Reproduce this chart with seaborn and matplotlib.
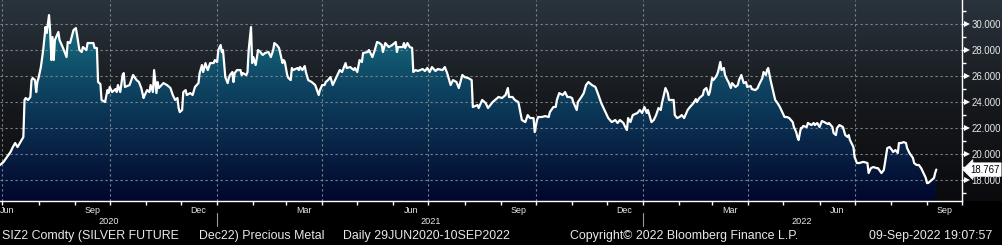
import numpy as np
import pandas as pd
import matplotlib
matplotlib.use("Agg")
import matplotlib.pyplot as plt
import matplotlib.dates as mdates
import matplotlib.transforms as mtransforms
from matplotlib.colors import LinearSegmentedColormap
from matplotlib.ticker import FixedLocator, NullFormatter
import seaborn as sns

# ---------------- data ----------------
start_date = "2020-06-29"
day_offsets = [
    0, 3, 6, 9, 11, 13, 15, 16, 20, 21,
    22, 24, 26, 27, 28, 30, 31, 32, 33, 35,
    37, 39, 40, 42, 43, 44, 45, 46, 47, 50,
    51, 54, 57, 58, 60, 63, 65, 66, 68, 70,
    71, 74, 75, 80, 81, 83, 84, 86, 87, 90,
    92, 93, 94, 96, 99, 100, 101, 103, 105, 106,
    107, 111, 114, 117, 119, 121, 123, 124, 126, 128,
    129, 131, 132, 134, 135, 136, 140, 143, 146, 148,
    150, 152, 153, 154, 156, 157, 159, 160, 163, 165,
    167, 170, 171, 173, 174, 176, 177, 178, 180, 183,
    184, 186, 187, 189, 190, 191, 193, 195, 196, 197,
    199, 200, 201, 203, 206, 207, 208, 211, 212, 213,
    215, 216, 217, 219, 220, 221, 223, 225, 227, 230,
    232, 234, 235, 237, 239, 242, 243, 244, 246, 247,
    249, 250, 251, 255, 256, 257, 259, 261, 262, 264,
    267, 270, 273, 274, 276, 278, 279, 281, 283, 285,
    289, 291, 293, 296, 297, 300, 303, 304, 306, 308,
    310, 311, 315, 316, 319, 321, 323, 325, 327, 328,
    330, 333, 336, 339, 340, 341, 345, 346, 347, 349,
    351, 353, 354, 356, 358, 362, 364, 366, 368, 370,
    373, 375, 379, 381, 383, 386, 388, 391, 393, 396,
    398, 401, 404, 405, 409, 410, 413, 416, 418, 422,
    424, 427, 430, 433, 435, 436, 439, 441, 444, 447,
    450, 452, 454, 457, 458, 460, 461, 464, 467, 470,
    471, 474, 476, 477, 479, 482, 484, 486, 488, 490,
    491, 494, 495, 498, 500, 502, 504, 507, 510, 512,
    515, 517, 519, 521, 524, 527, 529, 531, 534, 536,
    537, 538, 540, 542, 546, 548, 550, 552, 554, 555,
    558, 560, 562, 564, 566, 567, 570, 572, 573, 577,
    578, 580, 582, 584, 586, 589, 591, 594, 596, 597,
    599, 602, 603, 605, 607, 608, 610, 611, 613, 614,
    615, 617, 618, 620, 621, 623, 624, 626, 627, 630,
    632, 633, 635, 637, 639, 640, 643, 644, 647, 649,
    650, 653, 654, 656, 657, 658, 660, 662, 664, 666,
    668, 670, 672, 674, 676, 679, 680, 682, 683, 684,
    686, 687, 688, 691, 692, 695, 697, 698, 700, 702,
    704, 706, 709, 710, 713, 714, 716, 717, 719, 722,
    724, 726, 727, 728, 731, 732, 734, 736, 739, 740,
    743, 744, 746, 748, 751, 752, 755, 757, 758, 760,
    762, 764, 765, 767, 769, 770, 772, 774, 776, 777,
    779, 782, 783, 785, 787, 789, 791, 793, 794, 795,
    798, 800, 801, 802,
]
prices = [
    19.12, 19.35, 19.73, 20.12, 20.50, 20.81, 20.50, 20.65, 21.27, 24.12,
    24.27, 24.12, 24.35, 25.65, 25.81, 25.65, 24.73, 25.50, 25.81, 26.65,
    27.96, 29.73, 29.27, 30.65, 29.35, 27.19, 28.96, 27.19, 28.73, 29.35,
    28.73, 28.12, 27.42, 28.58, 28.50, 29.50, 29.65, 29.12, 27.96, 27.81,
    28.19, 27.96, 28.50, 28.50, 28.12, 28.12, 25.50, 25.35, 24.12, 23.96,
    24.88, 24.65, 25.12, 24.73, 24.96, 24.73, 25.27, 24.73, 26.04, 26.19,
    25.12, 25.27, 26.04, 25.65, 25.50, 25.04, 24.27, 24.50, 24.88, 24.73,
    25.27, 24.73, 26.42, 24.65, 25.50, 25.04, 25.42, 25.27, 25.04, 24.50,
    24.12, 24.27, 23.50, 23.19, 23.35, 24.73, 24.88, 24.50, 24.65, 24.50,
    25.12, 25.42, 26.19, 26.81, 26.27, 26.96, 26.65, 26.42, 26.96, 26.96,
    27.19, 27.04, 27.96, 28.35, 27.81, 27.96, 25.88, 25.42, 25.81, 26.04,
    26.27, 25.50, 26.19, 26.42, 26.42, 26.04, 26.19, 26.04, 26.27, 27.96,
    29.73, 26.96, 27.42, 26.81, 27.35, 27.96, 27.81, 27.58, 27.73, 27.81,
    27.42, 27.96, 28.50, 28.35, 28.12, 26.96, 27.19, 27.04, 26.04, 25.81,
    25.65, 26.58, 26.42, 26.58, 26.42, 26.65, 26.42, 26.73, 26.27, 25.65,
    25.50, 25.27, 24.50, 24.88, 25.27, 25.27, 25.50, 25.65, 25.88, 25.27,
    26.04, 26.42, 26.27, 26.96, 26.58, 26.65, 26.42, 26.58, 26.27, 27.19,
    27.04, 27.73, 27.81, 27.96, 27.42, 27.96, 28.58, 28.50, 28.35, 27.81,
    28.50, 28.19, 28.35, 28.58, 27.81, 28.19, 28.19, 28.50, 28.12, 28.50,
    28.19, 28.12, 26.27, 26.42, 26.35, 26.50, 26.35, 26.58, 26.27, 26.65,
    26.35, 26.50, 26.42, 26.65, 26.19, 25.27, 25.65, 25.50, 25.04, 26.04,
    25.88, 25.81, 25.65, 23.58, 23.73, 23.50, 24.12, 23.88, 23.50, 23.96,
    24.12, 24.35, 24.27, 24.50, 25.04, 24.35, 24.35, 24.12, 23.96, 22.58,
    22.42, 22.96, 22.73, 22.73, 21.65, 22.58, 22.81, 22.81, 22.88, 22.81,
    23.19, 23.58, 23.58, 24.12, 24.65, 24.50, 24.73, 24.35, 24.35, 24.27,
    23.96, 23.35, 23.96, 24.35, 24.65, 25.27, 25.50, 25.27, 25.12, 24.65,
    23.88, 23.50, 23.12, 22.73, 22.42, 22.58, 22.35, 22.58, 22.35, 21.96,
    21.81, 22.73, 22.42, 22.96, 23.12, 23.35, 23.12, 23.58, 23.12, 23.35,
    22.42, 22.58, 22.96, 23.50, 23.35, 23.88, 25.04, 24.65, 24.12, 24.12,
    22.96, 22.73, 22.81, 22.96, 22.73, 23.35, 23.58, 23.88, 24.19, 23.96,
    24.27, 24.50, 24.88, 25.04, 24.50, 24.73, 25.81, 25.65, 25.88, 26.04,
    26.27, 27.04, 26.42, 26.58, 26.04, 25.65, 25.50, 25.04, 25.42, 25.12,
    25.27, 25.65, 26.04, 25.42, 25.50, 25.12, 25.19, 24.96, 24.88, 25.04,
    25.27, 25.81, 26.27, 26.04, 26.42, 26.58, 25.65, 24.88, 24.12, 23.88,
    23.58, 23.19, 22.81, 22.81, 22.73, 22.42, 22.04, 21.65, 21.27, 21.04,
    21.96, 21.96, 22.12, 22.04, 22.35, 22.19, 22.35, 22.19, 22.35, 22.04,
    22.50, 22.42, 22.27, 22.35, 22.04, 21.58, 21.42, 21.96, 22.19, 22.04,
    21.42, 21.27, 21.42, 21.04, 20.50, 19.73, 19.27, 19.27, 19.35, 19.35,
    19.27, 18.50, 18.88, 18.96, 18.88, 18.88, 18.50, 18.73, 19.27, 20.42,
    20.50, 20.27, 20.12, 20.27, 20.04, 20.81, 20.81, 20.88, 20.81, 20.42,
    20.04, 19.65, 19.27, 19.12, 19.12, 18.88, 18.50, 18.12, 17.73, 17.73,
    17.96, 18.12, 18.50, 18.767,
]
y_ticks = [18, 20, 22, 24, 26, 28, 30]
y_minor_ticks = [17, 19, 21, 23, 25, 27, 29, 31]
month_labels = ["Jun", "Sep", "Dec", "Mar", "Jun", "Sep", "Dec", "Mar", "Jun", "Sep"]
month_label_dates = ["2020-07-05", "2020-09-16", "2020-12-16", "2021-03-16", "2021-06-16",
                     "2021-09-16", "2021-12-16", "2022-03-16", "2022-06-16", "2022-09-16"]
year_labels = ["2020", "2021", "2022"]
year_label_dates = ["2020-09-30", "2021-07-03", "2022-05-17"]
year_breaks = ["2021-01-01", "2022-01-01"]
x_range = ["2020-06-29", "2022-10-01"]
y_range = [16.35, 31.81]
footer_texts = ["SIZ2 Comdty (SILVER FUTURE", "Dec22) Precious Metal",
                "Daily 29JUN2020-10SEP2022", "Copyright\u00a9 2022 Bloomberg Finance L.P.",
                "09-Sep-2022 19:07:57"]
footer_x = [2, 199, 343, 570, 869]

# ---------------- style ----------------
sns.set_style("dark")
plt.rcParams["font.family"] = ["Liberation Sans", "DejaVu Sans"]
TXT = "#e8e8e8"

W, H = 1003, 245
fig = plt.figure(figsize=(W / 100, H / 100), dpi=100, facecolor="black")

grad = np.linspace(0, 1, 256).reshape(-1, 1)
bg_cmap = LinearSegmentedColormap.from_list(
    "bg", [(0, "#0b0b0e"), (0.5, "#16191d"), (1, "#2a343d")])

# background panel spanning the full width (plot + right axis area)
bg = fig.add_axes([0, 44 / H, 1, 201 / H], zorder=-1)
bg.imshow(grad, extent=[0, 1, 0, 1], origin="lower", aspect="auto",
          cmap=bg_cmap, interpolation="bilinear")
bg.set_xlim(0, 1)
bg.set_ylim(0, 1)
bg.axis("off")

ax = fig.add_axes([0, 44 / H, 962 / W, 201 / H], zorder=1)
ax.set_facecolor("none")

df = pd.DataFrame({
    "date": pd.Timestamp(start_date) + pd.to_timedelta(day_offsets, unit="D"),
    "price": prices,
})

sns.lineplot(data=df, x="date", y="price", ax=ax, color="white", lw=1.6,
             estimator=None, zorder=4)

x0 = mdates.date2num(pd.Timestamp(x_range[0]))
x1 = mdates.date2num(pd.Timestamp(x_range[1]))
ymin, ymax = y_range

fill_cmap = LinearSegmentedColormap.from_list(
    "fill", [(0, "#02062c"), (0.35, "#0a2c4e"), (0.62, "#0f4a66"),
             (0.9, "#177383"), (1, "#1b7d8c")])
poly = ax.fill_between(mdates.date2num(df["date"]), df["price"], ymin,
                       color="none", lw=0)
im = ax.imshow(grad, extent=[x0, x1, ymin, ymax], origin="lower", aspect="auto",
               cmap=fill_cmap, zorder=1, interpolation="bilinear")
im.set_clip_path(poly.get_paths()[0], transform=ax.transData)

ax.set_xlim(x0, x1)
ax.set_ylim(ymin, ymax)
ax.set_xlabel("")
ax.set_ylabel("")

# grid
grid_kw = dict(color="#7d858c", linestyle=(0, (2, 2.5)), linewidth=0.8)
ax.set_axisbelow(False)
ax.yaxis.set_major_locator(FixedLocator(y_ticks))
ax.yaxis.set_minor_locator(FixedLocator(y_minor_ticks))
ax.yaxis.grid(True, which="major", **grid_kw)
ax.xaxis.set_major_locator(mdates.MonthLocator(bymonth=[1, 4, 7, 10]))
ax.xaxis.set_minor_locator(mdates.MonthLocator())
ax.xaxis.set_major_formatter(NullFormatter())
ax.xaxis.set_minor_formatter(NullFormatter())
ax.xaxis.grid(True, which="major", **grid_kw)
for gl in ax.get_xgridlines() + ax.get_ygridlines():
    gl.set_zorder(2)

# spines
for s in ["top", "left"]:
    ax.spines[s].set_visible(False)
for s in ["right", "bottom"]:
    ax.spines[s].set_visible(True)
    ax.spines[s].set_color("white")
    ax.spines[s].set_linewidth(1.0)
    ax.spines[s].set_zorder(5)

# ticks
ax.yaxis.tick_right()
ax.tick_params(axis="y", which="major", direction="out", length=2, width=1,
               color="white", pad=5.0, labelsize=6.9, labelcolor=TXT,
               right=True, left=False)
ax.tick_params(axis="y", which="minor", direction="out", length=3, width=1,
               color="white", right=True, left=False)
ax.tick_params(axis="x", which="both", direction="out", length=3, width=1,
               color="white", bottom=True, top=False)
ax.set_yticklabels([f"{v:.3f}" for v in y_ticks])

right_tr = mtransforms.blended_transform_factory(ax.transAxes, ax.transData)
tri_tr = right_tr + mtransforms.ScaledTranslation(5 / 100, 0, fig.dpi_scale_trans)
ax.plot([1.0] * len(y_ticks), y_ticks, linestyle="none", marker=">", ms=5,
        color="white", mew=0, transform=tri_tr, clip_on=False, zorder=6)

# last value tag
ax.annotate(f"{prices[-1]:.3f}", xy=(1.0, prices[-1]), xycoords=right_tr,
            xytext=(8, 0), textcoords="offset pixels", ha="left", va="center",
            fontsize=6.9, color="black", zorder=10, annotation_clip=False,
            bbox=dict(boxstyle="larrow,pad=0.18", fc="white", ec="white", lw=0.5))

# month and year labels
bottom_tr = mtransforms.blended_transform_factory(ax.transData, ax.transAxes)
for lab, d in zip(month_labels, month_label_dates):
    ax.text(mdates.date2num(pd.Timestamp(d)), -9 / 201, lab, transform=bottom_tr,
            ha="center", va="center", fontsize=6.4, color=TXT, clip_on=False)
for lab, d in zip(year_labels, year_label_dates):
    ax.text(mdates.date2num(pd.Timestamp(d)), -20 / 201, lab, transform=bottom_tr,
            ha="center", va="center", fontsize=6.6, color=TXT, clip_on=False)
for d in year_breaks:
    xd = mdates.date2num(pd.Timestamp(d))
    ax.plot([xd, xd], [-12 / 201, -25 / 201], color="#9a9a9a", lw=0.8,
            transform=bottom_tr, clip_on=False)

# footer
for txt, xp in zip(footer_texts, footer_x):
    fig.text(xp / W, 9 / H, txt, ha="left", va="center", fontsize=8.9, color=TXT)

fig.savefig("out.png", dpi=100, facecolor="black")
